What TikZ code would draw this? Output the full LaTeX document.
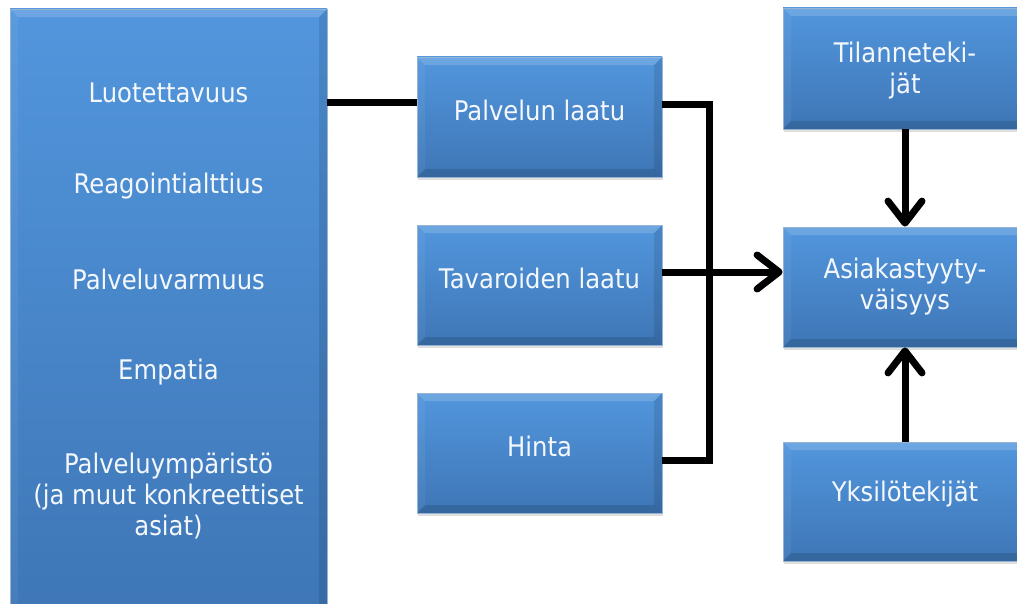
\documentclass[tikz,border=0pt]{standalone}
\usepackage{fontspec}
\setmainfont{DejaVu Sans}[FakeStretch=0.9]
\usetikzlibrary{arrows.meta,shadows,calc}
\definecolor{boxtop}{RGB}{82,150,221}
\definecolor{boxbot}{RGB}{62,118,182}
\definecolor{boxedge}{RGB}{150,180,212}
\definecolor{txt}{RGB}{244,248,252}
\begin{document}
\begin{tikzpicture}[x=1pt,y=-1pt,
  box/.style={rectangle, draw=boxedge, line width=0.8pt, top color=boxtop, bottom color=boxbot,
    drop shadow={opacity=0.18, shadow xshift=1pt, shadow yshift=-3pt, fill=black!70},
    path picture={
      \path (path picture bounding box.north west) coordinate (pnw)
            (path picture bounding box.north east) coordinate (pne)
            (path picture bounding box.south west) coordinate (psw)
            (path picture bounding box.south east) coordinate (pse);
      \fill[white,opacity=0.16] (pnw) -- (pne) -- ([shift={(-8pt,-8pt)}]pne) -- ([shift={(8pt,-8pt)}]pnw) -- cycle;
      \fill[white,opacity=0.05] (pnw) -- ([shift={(8pt,-8pt)}]pnw) -- ([shift={(8pt,8pt)}]psw) -- (psw) -- cycle;
      \fill[black,opacity=0.10] (pne) -- (pse) -- ([shift={(-8pt,8pt)}]pse) -- ([shift={(-8pt,-8pt)}]pne) -- cycle;
      \fill[black,opacity=0.13] (psw) -- (pse) -- ([shift={(-8pt,8pt)}]pse) -- ([shift={(8pt,8pt)}]psw) -- cycle;
    }},
  lbl/.style={text=txt, align=center, font=\fontsize{27}{31}\selectfont, inner sep=0pt},
  conn/.style={line width=7pt, draw=black},
  tip/.style={-{Straight Barb[length=22pt, width=34pt, line cap=round, line join=round]}}
]
\useasboundingbox (0,0) rectangle (1017,604);
\fill[white] (0,0) rectangle (1017,604);

% boxes
\node[box, minimum width=317pt, minimum height=611pt] (L) at (168.5,314.5) {};
\node[box, minimum width=245pt, minimum height=120pt] (PL) at (539.5,117) {};
\node[box, minimum width=245pt, minimum height=120pt] (TL) at (539.5,285) {};
\node[box, minimum width=245pt, minimum height=120pt] (H) at (539.5,453) {};
\node[box, minimum width=244pt, minimum height=121pt] (TK) at (905,68.5) {};
\node[box, minimum width=244pt, minimum height=120pt] (A) at (905,287) {};
\node[box, minimum width=244pt, minimum height=119pt] (Y) at (905,501.5) {};

% labels
\node[lbl] (l1) at (168.5,93) {Luotettavuus};
\node[lbl] (l2) at (168.5,186) {Reagointialttius};
\node[lbl] (l3) at (168.5,279) {Palveluvarmuus};
\node[lbl] (l4) at (168.5,372) {Empatia};
\node[lbl] (l5) at (168.5,496) {Palveluympäristö\\(ja muut konkreettiset\\asiat)};
\node[lbl] (tPL) at ([yshift=7pt]PL.center) {Palvelun laatu};
\node[lbl] (tTL) at ([yshift=7pt]TL.center) {Tavaroiden laatu};
\node[lbl] (tH) at ([yshift=7pt]H.center) {Hinta};
\node[lbl] (tTK) at ([yshift=-2pt]TK.center) {Tilanneteki-\\jät};
\node[lbl] (tA) at ([yshift=0pt]A.center) {Asiakastyyty-\\väisyys};
\node[lbl] (tY) at ([yshift=7pt]Y.center) {Yksilötekijät};

% connectors
\draw[conn] ([yshift=14pt]PL.west -| L.east) -- ([yshift=14pt]PL.west);
\draw[conn, line join=miter] ([yshift=12pt]PL.east) -| ([xshift=47pt,yshift=-7pt]H.east) -- ([yshift=-7pt]H.east);
\draw[conn, tip] ([yshift=13pt]TL.east) -- ([yshift=13pt]TL.east -| A.west);
\draw[conn, tip] (TK.south) -- (A.north);
\draw[conn, tip] (Y.north) -- (A.south);
\end{tikzpicture}
\end{document}
